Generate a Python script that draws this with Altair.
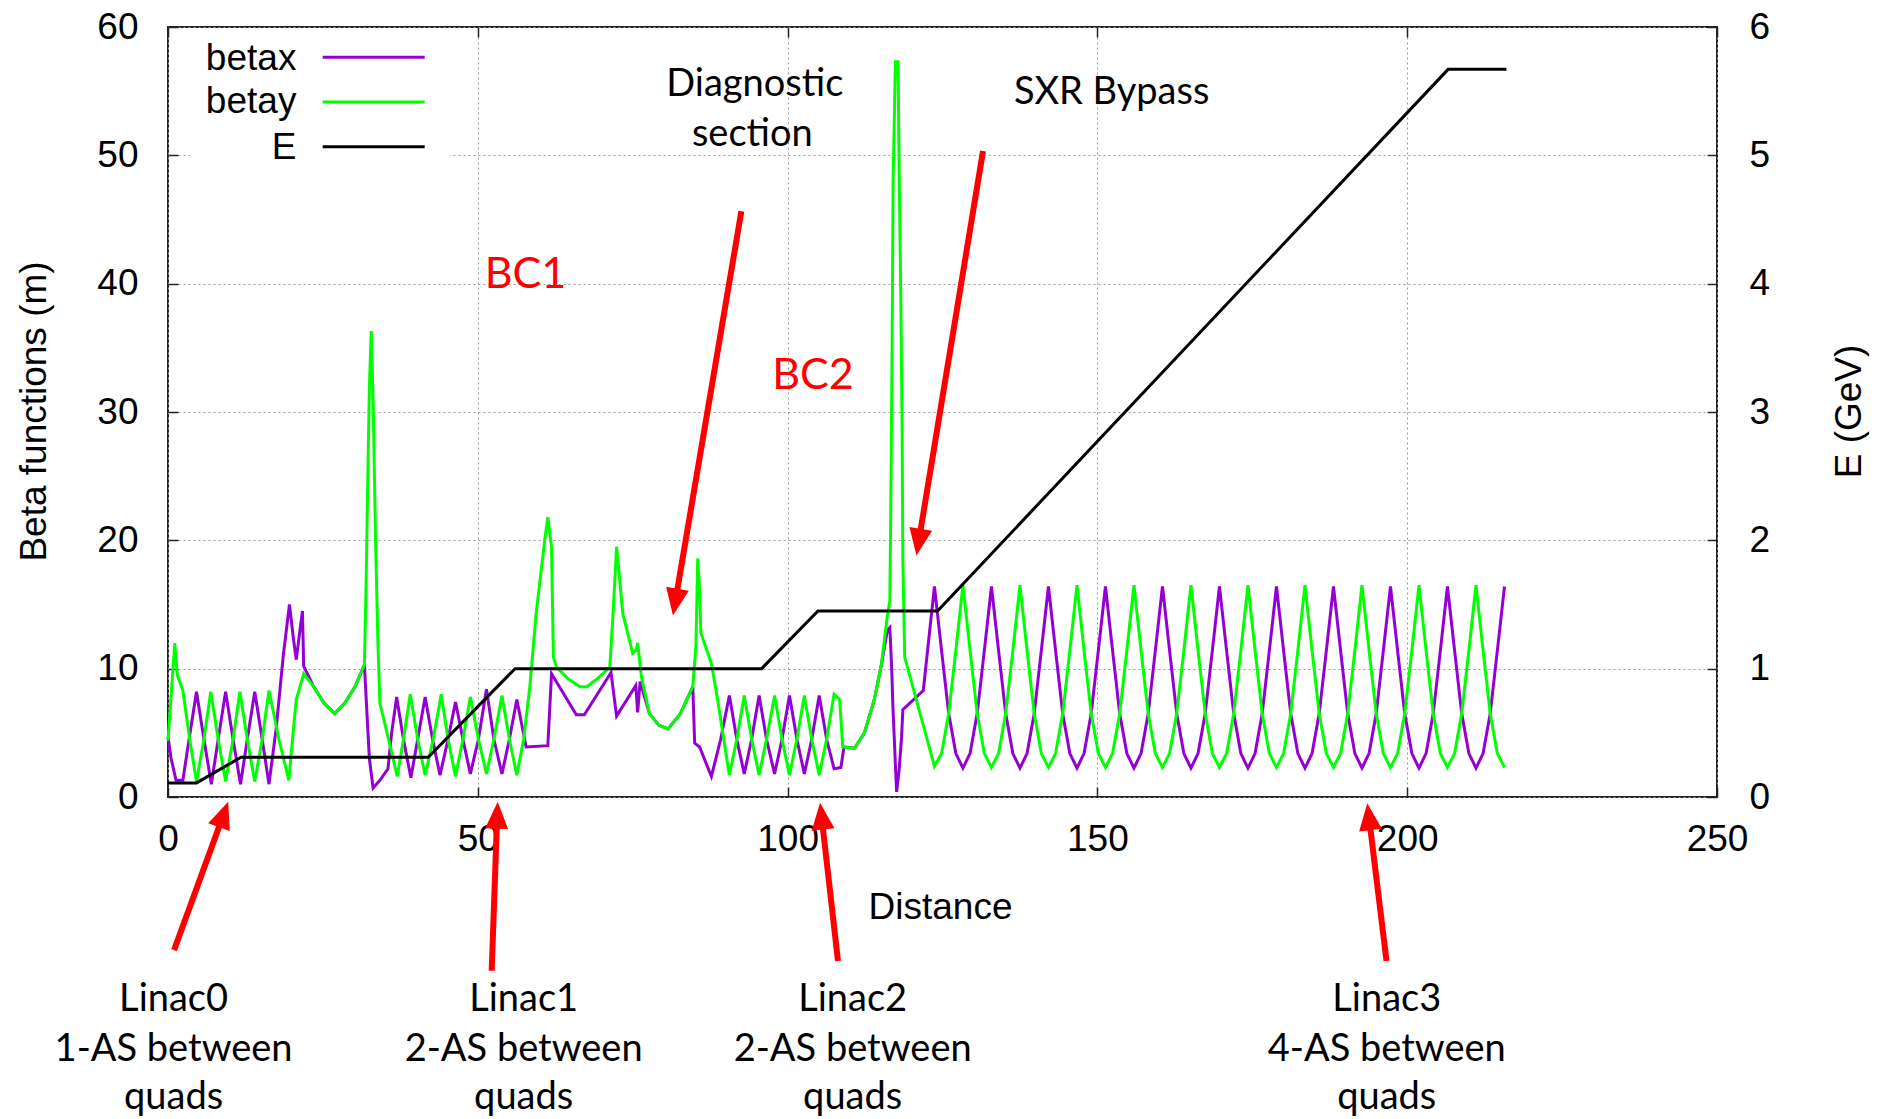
import math
import altair as alt
import pandas as pd

# ---------------- data ----------------
# betax (purple) up to the start of Linac3
bx_s = [0.0, 0.5, 1.3, 2.4, 3.4, 4.6, 5.8, 7.0, 8.1, 9.3, 10.5, 11.7, 12.8, 14.0, 15.2, 16.3,
        17.5, 18.6, 19.6, 20.2, 20.7, 21.3, 21.7, 21.9, 23.5, 25.2, 26.9, 28.5, 30.2, 31.7,
        32.5, 33.1, 34.2, 35.5, 36.1, 36.9, 38.0, 39.2, 40.3, 41.5, 42.7, 43.9, 45.2, 46.4,
        47.6, 48.8, 50.1, 51.4, 52.6, 53.9, 55.1, 56.3, 57.8, 61.3, 61.9, 65.9, 67.2, 71.5,
        72.4, 75.5, 75.8, 76.2, 77.7, 79.2, 80.7, 82.7, 84.7, 85.0, 85.8, 87.7, 89.2, 90.6,
        91.8, 93.0, 94.2, 95.4, 96.6, 97.9, 99.1, 100.3, 101.5, 102.7, 103.9, 105.1, 106.3,
        107.5, 108.6, 109.1, 110.8, 112.4, 114.0, 115.1, 116.1, 116.5, 116.8, 117.0, 117.4,
        117.6, 118.0, 118.4, 118.6, 121.9]
bx_v = [4.7, 3.0, 1.3, 1.3, 4.5, 8.2, 4.5, 1.0, 4.5, 8.2, 4.5, 1.0, 4.5, 8.2, 4.5, 1.0,
        5.5, 11.0, 15.0, 12.5, 10.7, 13.0, 14.5, 10.2, 8.6, 7.3, 6.5, 7.3, 8.6, 10.3,
        3.0, 0.7, 1.3, 2.2, 5.0, 7.8, 4.5, 1.5, 4.5, 7.8, 4.5, 1.7, 4.5, 7.4,
        4.5, 1.8, 4.5, 8.4, 4.5, 1.8, 4.5, 7.6, 3.9, 4.0, 9.6, 6.4, 6.4, 9.7,
        6.3, 8.7, 6.6, 9.0, 6.5, 5.6, 5.3, 6.5, 8.6, 4.2, 3.9, 1.6, 4.5, 7.9,
        4.5, 1.8, 4.5, 7.9, 4.5, 1.8, 4.5, 7.9, 4.5, 1.8, 4.5, 7.9, 4.5,
        2.2, 2.3, 3.9, 3.8, 5.0, 7.6, 10.2, 13.0, 13.2, 10.0, 7.0, 2.5,
        0.4, 2.1, 4.7, 6.8, 8.3]

# betay (green) up to the start of Linac3
by_s = [0.0, 1.1, 1.5, 2.4, 3.5, 4.6, 5.8, 6.9, 8.1, 9.3, 10.5, 11.6, 12.8, 14.0, 15.2, 16.3,
        17.9, 19.5, 20.1, 20.7, 21.3, 21.9, 23.5, 25.2, 26.9, 28.5, 30.2, 31.7, 31.95, 32.3,
        32.5, 32.8, 33.1, 33.5, 33.9, 34.2, 35.6, 37.0, 38.0, 39.1, 40.3, 41.5, 42.8, 44.1,
        45.2, 46.4, 47.6, 48.8, 50.1, 51.4, 52.6, 53.9, 55.1, 56.3, 57.4, 58.4, 59.4, 60.8,
        61.3, 61.9, 62.2, 62.7, 64.6, 66.5, 67.6, 69.5, 71.3, 71.8, 72.4, 73.4, 75.0, 75.6,
        75.8, 76.4, 77.7, 79.2, 80.7, 82.7, 84.7, 85.2, 85.5, 85.8, 86.0, 87.7, 88.7, 90.6,
        91.8, 93.0, 94.2, 95.4, 96.6, 97.9, 99.1, 100.3, 101.5, 102.7, 103.9, 105.1, 106.3,
        107.5, 108.4, 108.9, 110.8, 112.4, 114.0, 115.1, 116.1, 116.5, 116.66, 116.87, 117.03,
        117.4, 117.83, 118.0, 118.27, 118.48, 118.6, 118.9]
by_v = [4.4, 12.0, 9.5, 8.3, 4.5, 1.2, 4.5, 8.2, 4.5, 1.2, 4.5, 8.2, 4.5, 1.2, 4.5, 8.3,
        4.5, 1.3, 4.5, 7.6, 8.6, 9.6, 8.6, 7.3, 6.5, 7.3, 8.6, 10.3, 16.0, 26.3,
        31.8, 36.3, 31.0, 20.0, 11.7, 7.3, 4.5, 1.6, 4.5, 8.0, 4.5, 1.7, 4.5, 8.0,
        4.5, 1.6, 4.5, 7.8, 4.5, 1.8, 4.5, 7.9, 4.5, 1.7, 4.5, 8.6, 14.2, 20.0,
        21.8, 19.5, 10.9, 10.1, 9.2, 8.6, 8.6, 9.3, 10.1, 14.0, 19.5, 14.3, 11.2, 11.5,
        12.0, 9.4, 6.5, 5.6, 5.3, 6.5, 8.6, 11.7, 18.6, 16.1, 12.8, 10.4, 7.6, 1.7,
        4.5, 7.9, 4.5, 1.7, 4.5, 7.9, 4.5, 1.7, 4.5, 7.9, 4.5, 1.7, 4.5,
        8.0, 7.6, 3.9, 3.8, 5.0, 7.6, 10.2, 14.1, 15.3, 22.6, 35.2, 48.0,
        57.3, 57.3, 49.1, 39.0, 28.8, 18.5, 10.9]

# Linac3 FODO section (shared distance grid)
L3_s = [123.7, 124.85, 126.0, 127.15, 128.3, 129.45, 130.6, 131.75,
        132.9, 134.05, 135.2, 136.35, 137.5, 138.65, 139.8, 140.95,
        142.1, 143.25, 144.4, 145.55, 146.7, 147.85, 149.0, 150.15,
        151.3, 152.45, 153.6, 154.75, 155.9, 157.05, 158.2, 159.35,
        160.5, 161.65, 162.8, 163.95, 165.1, 166.25, 167.4, 168.55,
        169.7, 170.85, 172.0, 173.15, 174.3, 175.45, 176.6, 177.75,
        178.9, 180.05, 181.2, 182.35, 183.5, 184.65, 185.8, 186.95,
        188.1, 189.25, 190.4, 191.55, 192.7, 193.85, 195.0, 196.15,
        197.3, 198.45, 199.6, 200.75, 201.9, 203.05, 204.2, 205.35,
        206.5, 207.65, 208.8, 209.95, 211.1, 212.25, 213.4, 214.55,
        215.7]
L3_bx = [16.4, 11.4, 6.5, 3.4, 2.25, 3.4, 6.5, 11.4,
         16.4, 11.4, 6.5, 3.4, 2.25, 3.4, 6.5, 11.4,
         16.4, 11.4, 6.5, 3.4, 2.25, 3.4, 6.5, 11.4,
         16.4, 11.4, 6.5, 3.4, 2.25, 3.4, 6.5, 11.4,
         16.4, 11.4, 6.5, 3.4, 2.25, 3.4, 6.5, 11.4,
         16.4, 11.4, 6.5, 3.4, 2.25, 3.4, 6.5, 11.4,
         16.4, 11.4, 6.5, 3.4, 2.25, 3.4, 6.5, 11.4,
         16.4, 11.4, 6.5, 3.4, 2.25, 3.4, 6.5, 11.4,
         16.4, 11.4, 6.5, 3.4, 2.25, 3.4, 6.5, 11.4,
         16.4, 11.4, 6.5, 3.4, 2.25, 3.4, 6.5, 11.4,
         16.4]
L3_by = [2.4, 3.4, 6.5, 11.4, 16.5, 11.4, 6.5, 3.4,
         2.3, 3.4, 6.5, 11.4, 16.5, 11.4, 6.5, 3.4,
         2.3, 3.4, 6.5, 11.4, 16.5, 11.4, 6.5, 3.4,
         2.3, 3.4, 6.5, 11.4, 16.5, 11.4, 6.5, 3.4,
         2.3, 3.4, 6.5, 11.4, 16.5, 11.4, 6.5, 3.4,
         2.3, 3.4, 6.5, 11.4, 16.5, 11.4, 6.5, 3.4,
         2.3, 3.4, 6.5, 11.4, 16.5, 11.4, 6.5, 3.4,
         2.3, 3.4, 6.5, 11.4, 16.5, 11.4, 6.5, 3.4,
         2.3, 3.4, 6.5, 11.4, 16.5, 11.4, 6.5, 3.4,
         2.3, 3.4, 6.5, 11.4, 16.5, 11.4, 6.5, 3.4,
         2.3]

# Energy (GeV), right axis
e_s = [0.0, 4.6, 11.8, 42.0, 56.0, 95.8, 104.9, 124.2, 206.6, 216.0]
e_v = [0.11, 0.11, 0.31, 0.31, 1.0, 1.0, 1.45, 1.45, 5.67, 5.67]

# tick values
x_ticks = [0, 50, 100, 150, 200, 250]
y_ticks = [0, 10, 20, 30, 40, 50, 60]
e_ticks = [0, 1, 2, 3, 4, 5, 6]

# legend
leg_labels = ["betax", "betay", "E"]
leg_colors = ["#9400D3", "#00FF00", "#000000"]
leg_text_s = [20.72, 20.72, 20.72]
leg_text_b = [56.66, 53.29, 49.70]
leg_line_s = [24.97, 24.97, 24.97]
leg_line_s2 = [41.43, 41.43, 41.43]
leg_line_b = [57.65, 54.15, 50.66]
leg_box = {"s": [3.5], "s2": [45.5], "b": [47.3], "b2": [59.8]}

# annotation texts (black)
note_text = ["Diagnostic", "section", "SXR Bypass",
             "Linac0", "1-AS between", "quads",
             "Linac1", "2-AS between", "quads",
             "Linac2", "2-AS between", "quads",
             "Linac3", "4-AS between", "quads"]
note_s = [94.7, 94.3, 152.3,
          0.9, 0.9, 0.9,
          57.4, 57.4, 57.4,
          110.5, 110.5, 110.5,
          196.7, 196.7, 196.7]
note_b = [54.6, 50.7, 54.0,
          -16.7, -20.6, -24.3,
          -16.7, -20.6, -24.3,
          -16.7, -20.6, -24.3,
          -16.7, -20.6, -24.3]

# red labels
red_text = ["BC1", "BC2"]
red_s = [57.7, 104.1]
red_b = [39.7, 31.8]

# arrows (tail -> tip) in data coordinates
arr_tail_s = [0.98, 52.24, 108.13, 196.66, 92.54, 131.54]
arr_tail_b = [-11.93, -13.54, -12.78, -12.78, 45.65, 50.33]
arr_tip_s = [9.72, 53.21, 105.23, 193.56, 81.50, 120.79]
arr_tip_b = [-0.37, -0.37, -0.44, -0.49, 14.15, 18.82]

# ---------------- layout / style ----------------
W, H = 1549, 770
PX_X = W / 250.0
PX_Y = H / 60.0
AX_FONT = "Liberation Sans"
NOTE_FONT = "Lato"
HEAD_LEN = 27
HEAD_PATH = "M0,0L-0.85,2L0.85,2Z"

xs = alt.Scale(domain=[0, 250], nice=False, zero=False)
ys = alt.Scale(domain=[0, 60], nice=False, zero=False)
es = alt.Scale(domain=[0, 6], nice=False, zero=False)

common_axis = dict(
    offset=-10, tickSize=10, tickColor="#222", tickWidth=1.5, domain=False,
    labelFont=AX_FONT, labelFontSize=37, labelColor="black",
    titleFont=AX_FONT, titleFontSize=37, titleColor="black", titleFontWeight="normal",
    labelFlush=False, labelOverlap=False,
)

x_axis = alt.Axis(values=x_ticks, labelPadding=24, grid=True, gridColor="#9a9a9a",
                  gridDash=[2, 3], gridWidth=1, title="Distance",
                  titleX=772, titleY=120, titleAlign="center", titleBaseline="middle",
                  **common_axis)
y_axis = alt.Axis(values=y_ticks, labelPadding=30, grid=True, gridColor="#9a9a9a",
                  gridDash=[2, 3], gridWidth=1, title="Beta functions (m)",
                  titleAngle=270, titleX=-144, titleY=384, titleAlign="center",
                  titleBaseline="middle", **common_axis)
top_axis = alt.Axis(values=x_ticks, orient="top", labels=False, title=None, grid=False,
                    **common_axis)
e_axis = alt.Axis(values=e_ticks, orient="right", labelPadding=32, grid=False,
                  title="E (GeV)", titleAngle=270, titleX=142, titleY=384,
                  titleAlign="center", titleBaseline="middle", **common_axis)


def X(field):
    return alt.X(field, type="quantitative", scale=xs, axis=x_axis)


def Y(field):
    return alt.Y(field, type="quantitative", scale=ys, axis=y_axis)


# ---------------- tables ----------------
bx_df = pd.DataFrame({"s": bx_s + L3_s, "v": bx_v + L3_bx})
by_df = pd.DataFrame({"s": by_s + L3_s, "v": by_v + L3_by})
e_df = pd.DataFrame({"s": e_s, "v": e_v})

rows = []
for ts, tb, ps, pb in zip(arr_tail_s, arr_tail_b, arr_tip_s, arr_tip_b):
    dxp = (ps - ts) * PX_X
    dyp = -(pb - tb) * PX_Y
    L = math.hypot(dxp, dyp)
    ux, uy = dxp / L, dyp / L
    ang = math.degrees(math.atan2(ux, -uy)) % 360
    back = HEAD_LEN - 4
    rows.append({"ts": ts, "tb": tb, "ps": ps, "pb": pb, "ang": ang,
                 "es": ps - ux * back / PX_X, "eb": pb + uy * back / PX_Y})
arr_df = pd.DataFrame(rows)

note_df = pd.DataFrame({"t": note_text, "s": note_s, "b": note_b})
red_df = pd.DataFrame({"t": red_text, "s": red_s, "b": red_b})
leg_df = pd.DataFrame({"lab": leg_labels, "ts": leg_text_s, "tb": leg_text_b,
                       "ls": leg_line_s, "ls2": leg_line_s2, "lb": leg_line_b})
box_df = pd.DataFrame(leg_box)

color_scale = alt.Scale(domain=leg_labels, range=leg_colors)

# ---------------- layers ----------------
bx_line = alt.Chart(bx_df).mark_line(color="#9400D3", strokeWidth=3).encode(
    x=X("s"), y=Y("v"))
by_line = alt.Chart(by_df).mark_line(color="#00FF00", strokeWidth=3).encode(
    x=X("s"), y=Y("v"))
box = alt.Chart(box_df).mark_rect(color="white").encode(
    x=X("s"), x2="s2:Q", y=Y("b"), y2="b2:Q")
leg_text = alt.Chart(leg_df).mark_text(font=AX_FONT, fontSize=37, align="right",
                                       baseline="alphabetic", color="black").encode(
    x=X("ts"), y=Y("tb"), text="lab:N")
leg_lines = alt.Chart(leg_df).mark_rule(strokeWidth=3).encode(
    x=X("ls"), x2="ls2:Q", y=Y("lb"),
    color=alt.Color("lab:N", scale=color_scale, legend=None))
notes = alt.Chart(note_df).mark_text(font=NOTE_FONT, fontSize=38, align="center",
                                     baseline="alphabetic", color="black").encode(
    x=X("s"), y=Y("b"), text="t:N")
reds = alt.Chart(red_df).mark_text(font=NOTE_FONT, fontSize=43, align="center",
                                   baseline="alphabetic", color="#FF0000").encode(
    x=X("s"), y=Y("b"), text="t:N")
shafts = alt.Chart(arr_df).mark_rule(color="#FF0000", strokeWidth=6).encode(
    x=X("ts"), x2="es:Q", y=Y("tb"), y2="eb:Q")
heads = alt.Chart(arr_df).mark_point(shape=HEAD_PATH, filled=True, size=HEAD_LEN ** 2,
                                     color="#FF0000", opacity=1, strokeWidth=0).encode(
    x=X("ps"), y=Y("pb"), angle=alt.Angle("ang:Q", scale=None))

inner = alt.layer(bx_line, by_line, box, leg_lines, leg_text, notes, reds, shafts, heads)

e_line = alt.Chart(e_df).mark_line(color="black", strokeWidth=3).encode(
    x=alt.X("s:Q", scale=xs, axis=top_axis),
    y=alt.Y("v:Q", scale=es, axis=e_axis),
)

chart = alt.layer(inner, e_line).resolve_scale(y="independent").resolve_axis(
    x="independent"
).properties(
    width=W, height=H,
    padding={"left": 168, "top": 27, "right": 1886 - 168 - W, "bottom": 1119 - 27 - H},
    autosize=alt.AutoSizeParams(type="none"),
).configure_view(stroke="#222", strokeWidth=2)

chart.save("out.html", embed_options={"renderer": "svg", "actions": False})
